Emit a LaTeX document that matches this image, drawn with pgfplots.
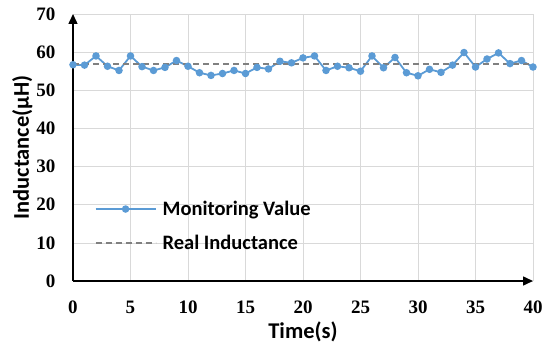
\documentclass[border=0pt]{standalone}
\usepackage{pgfplots}
\pgfplotsset{compat=1.18}
\usepackage{fontspec}
\usetikzlibrary{arrows.meta}
\setmainfont{Liberation Serif}
\newfontfamily\calib{Carlito}
\definecolor{mblue}{RGB}{91,155,213}
\definecolor{rgray}{RGB}{128,128,128}
\definecolor{gridc}{RGB}{217,217,217}
\pgfplotstableread{
x y
0 56.7
1 56.6
2 59.0
3 56.3
4 55.2
5 59.0
6 56.2
7 55.2
8 56.0
9 57.8
10 56.3
11 54.6
12 53.9
13 54.4
14 55.2
15 54.4
16 56.0
17 55.6
18 57.6
19 57.2
20 58.5
21 59.0
22 55.2
23 56.3
24 55.9
25 55.0
26 59.0
27 55.9
28 58.6
29 54.6
30 53.8
31 55.5
32 54.7
33 56.6
34 59.9
35 56.1
36 58.2
37 59.8
38 57.0
39 57.8
40 56.1
}\monit
\begin{document}
\begin{tikzpicture}
\begin{axis}[
  name=ax,
  scale only axis,
  width=460pt, height=267pt,
  xmin=0, xmax=40, ymin=0, ymax=70,
  xtick={0,5,...,40}, ytick={0,10,...,70},
  axis lines=left,
  axis line style={line width=1.5pt, -{Triangle[width=9pt,length=10pt]}},
  grid=major,
  major grid style={gridc, line width=0.7pt},
  tick style={draw=none},
  /pgf/number format/assume math mode=true,
  ticklabel style={font=\fontsize{19}{21}\selectfont\bfseries},
  yticklabel style={xshift=-12pt},
  xticklabel style={yshift=-14pt},
  xlabel={\calib\bfseries Time(s)},
  ylabel={\calib\bfseries Inductance(μH)},
  label style={font=\fontsize{22.5}{26}\selectfont},
  xlabel style={yshift=-1pt},
  ylabel style={yshift=-3pt},
  legend style={at={(0.04,0.315)}, anchor=north west, draw=none, fill=none,
    font=\calib\fontsize{20.5}{24}\selectfont\bfseries, row sep=14pt,
    nodes={inner xsep=6pt}},
  legend cell align=left,
  legend image code/.code={
    \draw[#1] (0pt,0pt) -- (60pt,0pt);
    \draw[#1, only marks] plot coordinates {(30pt,0pt)};
  },
]
\addplot[mblue, line width=1.8pt, mark=*, mark size=2.8pt] table[x=x,y=y] {\monit};
\addlegendentry{Monitoring Value}
\addplot[rgray, line width=2pt, dash pattern=on 6pt off 4pt, mark=none] coordinates {(0,56.8) (40,56.8)};
\addlegendentry{Real Inductance}
\end{axis}
\path (ax.south west) ++(-73pt,-64pt) coordinate (bl);
\path (ax.north east) ++(17pt,14pt) coordinate (tr);
\path (bl) rectangle (tr);
\end{tikzpicture}
\end{document}
